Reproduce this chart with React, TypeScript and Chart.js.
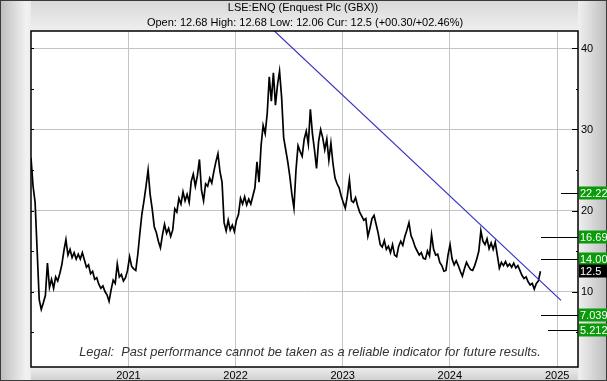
import { useEffect, useRef } from 'react';
import { Chart, registerables } from 'chart.js';

Chart.register(...registerables);

const FONT = '"Liberation Sans", Arial, sans-serif';

// Weekly closes (GBX) starting on startDate
const startDate = '2020-02-04';
const weeklyCloses = [
  26.5, 23.0, 21.0, 15.0, 9.0, 7.8, 8.6, 9.5, 13.5, 10.5,
  11.5, 10.4, 11.8, 11.3, 12.2, 13.3, 15.0, 16.4, 14.5, 15.2,
  14.2, 14.8, 14.0, 14.6, 14.0, 14.8, 13.9, 13.0, 13.3, 12.2,
  12.5, 11.5, 11.7, 10.9, 10.4, 10.7, 10.0, 9.6, 8.8, 10.2,
  11.4, 11.0, 13.4, 11.8, 12.1, 11.3, 11.7, 12.6, 14.3, 13.1,
  12.8, 12.6, 14.6, 17.2, 19.6, 21.2, 23.0, 25.0, 22.0, 20.2,
  18.0, 17.3, 16.2, 15.4, 17.0, 18.3, 17.2, 17.8, 16.8, 17.6,
  20.2, 19.8, 21.5, 20.8, 22.3, 21.2, 22.0, 21.0, 23.6, 24.5,
  23.0, 24.3, 26.3, 22.5, 21.2, 23.3, 23.0, 24.0, 23.4, 24.8,
  26.0, 27.0, 24.8, 23.5, 18.5, 17.5, 18.8, 17.6, 18.2, 17.4,
  18.8, 19.5, 21.5, 20.8, 21.7, 20.7, 21.4, 20.8, 21.8, 22.8,
  26.0, 23.5, 28.0, 30.5, 29.5, 32.0, 36.5, 33.5, 37.0, 33.0,
  35.5, 37.2, 34.0, 29.0, 27.5, 26.0, 24.2, 22.0, 20.3, 25.0,
  28.0, 27.3, 26.7, 28.8, 29.8, 28.2, 32.5, 29.5, 27.5, 25.2,
  28.5, 30.0, 29.0, 27.5, 28.8, 26.2, 28.3, 25.8, 24.0, 23.3,
  22.8, 21.8, 21.0, 20.3, 21.8, 23.8, 21.2, 21.0, 21.6, 20.6,
  19.8, 19.3, 18.8, 19.0, 16.8, 17.8, 19.0, 19.4, 18.3, 17.2,
  15.8, 15.5, 16.3, 15.2, 15.6, 14.8, 15.8, 14.5, 14.3, 15.6,
  16.2, 15.7, 16.8, 17.6, 18.5, 16.9, 16.3, 15.5, 15.0, 14.5,
  14.8, 14.1, 14.0, 15.0, 14.4, 17.0, 15.2, 14.5, 14.6, 13.6,
  13.2, 12.5, 12.6, 14.5, 15.8, 14.0, 13.3, 13.8, 13.2, 12.5,
  11.9, 12.8, 13.6, 13.1, 12.7, 12.6, 13.2, 14.0, 15.0, 17.5,
  16.2, 15.8, 16.5, 15.3, 16.0, 15.2, 16.1, 14.5, 12.9, 13.6,
  13.2, 13.7, 13.1, 13.4, 13.0, 13.5, 12.9, 13.2, 12.6, 12.0,
  11.6, 11.8, 11.2, 10.8, 11.0, 10.3, 11.0, 11.3, 12.5,
];

const axisStart = '2020-02-04';
const axisEnd = '2025-03-13';
const yMin = 0.68;
const yMax = 42.16;
const yearTicks = [2021, 2022, 2023, 2024, 2025];
const valueTicks = [5, 10, 15, 20, 25, 30, 35, 40];

const trendDates = ['2022-04-01', '2025-01-14'];
const trendValues = [43.6, 8.9];

const levelValues = [22.22, 16.69, 14.0, 7.039, 5.212];
const levelLabels = ['22.22', '16.69', '14.00', '7.039', '5.212'];
const levelLineLengths = [17, 37, 37, 37, 30];
const currentValue = 12.5;
const currentLabel = '12.5';

const titleText = 'LSE:ENQ (Enquest Plc (GBX))';
const subtitleText = 'Open: 12.68 High: 12.68 Low: 12.06 Cur: 12.5 (+00.30/+02.46%)';
const legalText = 'Legal:  Past performance cannot be taken as a reliable indicator for future results.';

const DAY = 86400000;

export default function App() {
  const ref = useRef<HTMLCanvasElement | null>(null);

  useEffect(() => {
    document.body.style.margin = '0';
    const canvas = ref.current;
    if (!canvas) return;
    const t0 = Date.parse(startDate);
    const pricePoints = weeklyCloses.map((v, i) => ({ x: t0 + i * 7 * DAY, y: v }));
    const trendPoints = trendDates.map((d, i) => ({ x: Date.parse(d), y: trendValues[i] }));

    const framePlugin = {
      id: 'frame',
      beforeDraw(chart: any) {
        const { ctx, width, height, chartArea: a } = chart;
        ctx.save();
        ctx.fillStyle = '#e6e6e6';
        ctx.fillRect(0, 0, width, height);
        let g = ctx.createLinearGradient(0, 0, a.left, 0);
        g.addColorStop(0, '#bdbdbd');
        g.addColorStop(0.85, '#f2f2f2');
        g.addColorStop(1, '#ececec');
        ctx.fillStyle = g;
        ctx.fillRect(0, 0, a.left, height);
        g = ctx.createLinearGradient(a.right, 0, width, 0);
        g.addColorStop(0, '#f0f0f0');
        g.addColorStop(1, '#bdbdbd');
        ctx.fillStyle = g;
        ctx.fillRect(a.right, 0, width - a.right, height);
        g = ctx.createLinearGradient(0, 0, 0, a.top);
        g.addColorStop(0, '#d8d8d8');
        g.addColorStop(1, '#efefef');
        ctx.fillStyle = g;
        ctx.fillRect(a.left, 0, a.right - a.left, a.top);
        g = ctx.createLinearGradient(0, a.bottom, 0, height);
        g.addColorStop(0, '#eeeeee');
        g.addColorStop(1, '#cfcfcf');
        ctx.fillStyle = g;
        ctx.fillRect(a.left, a.bottom, a.right - a.left, height - a.bottom);
        ctx.strokeStyle = '#3a3a3a';
        ctx.lineWidth = 1;
        ctx.strokeRect(0.5, 0.5, width - 1, height - 1);
        ctx.fillStyle = '#ffffff';
        ctx.fillRect(a.left, a.top, a.right - a.left, a.bottom - a.top);
        ctx.restore();
      },
      afterDatasetsDraw(chart: any) {
        const { ctx, chartArea: a, scales } = chart;
        const ys = scales.y;
        ctx.save();
        // legal text
        ctx.font = `italic 12.8px ${FONT}`;
        ctx.fillStyle = '#333333';
        ctx.textAlign = 'center';
        ctx.textBaseline = 'middle';
        ctx.fillText(legalText, 310, 352);
        // frame
        ctx.strokeStyle = '#000';
        ctx.lineWidth = 1.5;
        ctx.strokeRect(a.left, a.top, a.right - a.left, a.bottom - a.top);
        // inside ticks
        ctx.lineWidth = 1;
        ctx.beginPath();
        valueTicks.forEach((v) => {
          const y = Math.round(ys.getPixelForValue(v)) + 0.5;
          const major = v % 10 === 0;
          ctx.moveTo(a.left, y);
          ctx.lineTo(a.left + 3, y);
          ctx.moveTo(a.right, y);
          ctx.lineTo(a.right - (major ? 6 : 2), y);
        });
        ctx.stroke();
        // titles
        ctx.font = `11px ${FONT}`;
        ctx.fillStyle = '#000';
        ctx.textAlign = 'center';
        ctx.fillText(titleText, 303, 8);
        ctx.fillText(subtitleText, 305, 23);
        // level lines + labels
        ctx.textAlign = 'left';
        levelValues.forEach((v, i) => {
          const y = Math.round(ys.getPixelForValue(v)) + 0.5;
          ctx.strokeStyle = '#000';
          ctx.beginPath();
          ctx.moveTo(a.right - levelLineLengths[i], y);
          ctx.lineTo(a.right, y);
          ctx.stroke();
          ctx.fillStyle = '#0a9a0a';
          ctx.fillRect(a.right + 1, y - 7, 30, 13);
          ctx.fillStyle = '#ffffff';
          ctx.fillText(levelLabels[i], a.right + 2, y);
        });
        const cy = Math.round(ys.getPixelForValue(currentValue)) + 0.5;
        ctx.fillStyle = '#000';
        ctx.fillRect(a.right + 1, cy - 7, 30, 13);
        ctx.fillStyle = '#fff';
        ctx.fillText(currentLabel, a.right + 2, cy);
        ctx.restore();
      },
    };

    const chart = new Chart(canvas, {
      type: 'line',
      data: {
        datasets: [
          {
            data: trendPoints,
            borderColor: '#3434c4',
            borderWidth: 1.2,
            pointRadius: 0,
          },
          {
            data: pricePoints,
            borderColor: '#000000',
            borderWidth: 1.7,
            pointRadius: 0,
            tension: 0,
          },
        ],
      },
      options: {
        responsive: false,
        animation: false,
        events: [],
        layout: { padding: { left: 31, top: 31, right: 0, bottom: 0 } },
        plugins: { legend: { display: false }, tooltip: { enabled: false }, title: { display: false } },
        scales: {
          x: {
            type: 'linear',
            min: Date.parse(axisStart),
            max: Date.parse(axisEnd),
            afterBuildTicks: (s: any) => {
              s.ticks = yearTicks.map((y) => ({ value: Date.UTC(y, 0, 1) }));
            },
            afterFit: (s: any) => {
              s.height = 14;
            },
            grid: { color: '#c4c4c4', drawTicks: false, lineWidth: 1 },
            border: { display: false },
            ticks: {
              autoSkip: false,
              maxRotation: 0,
              padding: 2,
              color: '#000',
              font: { family: FONT, size: 11 },
              callback: (v: any) => String(new Date(Number(v)).getUTCFullYear()),
            },
          },
          y: {
            type: 'linear',
            position: 'right',
            min: yMin,
            max: yMax,
            afterBuildTicks: (s: any) => {
              s.ticks = valueTicks.map((v) => ({ value: v }));
            },
            afterFit: (s: any) => {
              s.width = 29;
            },
            grid: {
              drawTicks: false,
              lineWidth: 1,
              color: (c: any) => (c.tick && c.tick.value % 10 === 0 ? '#c4c4c4' : 'rgba(0,0,0,0)'),
            },
            border: { display: false },
            ticks: {
              autoSkip: false,
              padding: 3,
              color: '#000',
              font: { family: FONT, size: 11 },
              callback: (v: any) => (Number(v) % 10 === 0 ? String(v) : ''),
            },
          },
        },
      },
      plugins: [framePlugin],
    });
    return () => chart.destroy();
  }, []);

  return (
    <div style={{ width: 607, height: 381 }}>
      <canvas ref={ref} width={607} height={381} style={{ display: 'block' }} />
    </div>
  );
}
